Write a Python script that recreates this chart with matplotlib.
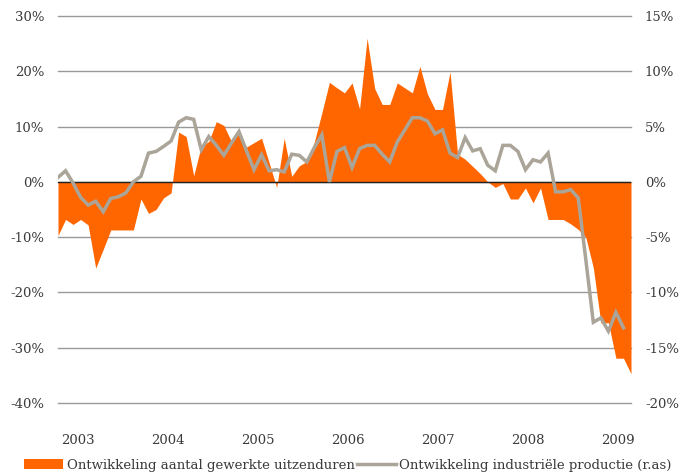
import matplotlib
matplotlib.use("Agg")
import matplotlib.pyplot as plt
import numpy as np
from matplotlib.patches import Patch
from matplotlib.lines import Line2D

# Monthly observations, Jan 2003 .. May 2009 (index 0..76)
uitzenduren = [-9.7, -6.8, -7.7, -6.8, -7.8, -15.6, -12.2, -8.7, -8.7, -8.7,
               -8.7, -3.1, -5.7, -5.0, -2.9, -2.0, 9.0, 8.2, 1.1, 6.5,
               7.3, 10.9, 10.2, 7.3, 8.7, 6.3, 7.1, 7.9, 3.5, -1.0,
               7.9, 1.0, 2.9, 3.7, 7.2, 12.5, 18.0, 17.0, 16.1, 17.9,
               13.2, 26.0, 16.9, 14.0, 14.0, 17.9, 17.0, 16.1, 20.9, 15.9,
               13.1, 13.1, 19.9, 5.0, 4.1, 2.8, 1.5, 0.0, -1.0, -0.3,
               -3.1, -3.1, -1.1, -3.8, -1.1, -6.8, -6.8, -6.8, -7.6, -8.6,
               -10.0, -15.5, -25.5, -25.5, -31.9, -31.9, -34.7]

productie = [0.4, 1.0, -0.1, -1.4, -2.1, -1.75, -2.7, -1.5, -1.35, -1.0,
             0.0, 0.5, 2.6, 2.75, 3.2, 3.7, 5.4, 5.8, 5.65, 2.9,
             4.1, 3.3, 2.4, 3.5, 4.55, 2.8, 1.1, 2.45, 1.0, 1.1,
             0.9, 2.5, 2.4, 1.8, 3.1, 4.25, 0.0, 2.75, 3.1, 1.3,
             3.0, 3.3, 3.3, 2.5, 1.8, 3.6, 4.7, 5.8, 5.8, 5.5,
             4.35, 4.7, 2.6, 2.2, 4.0, 2.8, 3.0, 1.5, 1.0, 3.3,
             3.3, 2.75, 1.1, 2.0, 1.8, 2.6, -0.9, -0.9, -0.7, -1.45,
             -7.0, -12.7, -12.3, -13.5, -11.8, -13.2, np.nan]

year_labels = ["2003", "2004", "2005", "2006", "2007", "2008", "2009"]
left_ticks = [30, 20, 10, 0, -10, -20, -30, -40]
right_ticks = [15, 10, 5, 0, -5, -10, -15, -20]

ORANGE = "#FF6600"
GREY = "#AAA499"
TXT = "#3a3a3a"
FONT = "DejaVu Serif"

plt.rcParams["font.family"] = [FONT, "DejaVu Sans"]

fig = plt.figure(figsize=(6.94, 4.75), dpi=100)
ax = fig.add_axes([58 / 694, 1 - 403 / 475, (631 - 58) / 694, (403 - 16) / 475])

x = np.arange(len(uitzenduren))
ax.fill_between(x, 0, uitzenduren, color=ORANGE, lw=0, zorder=2)
for t in left_ticks:
    ax.axhline(t, color="#999999", lw=1.0, zorder=1, clip_on=False)
ax.axhline(0, color="#222222", lw=1.0, zorder=3)

ax.set_xlim(0, len(uitzenduren) - 1)
ax.set_ylim(-40, 30)
ax.set_yticks(left_ticks)
ax.set_yticklabels([f"{t}%" for t in left_ticks])
xt = [2.6 + 11.95 * k for k in range(len(year_labels))]
ax.set_xticks(xt)
ax.set_xticklabels(year_labels)
ax.tick_params(axis="both", length=0, labelsize=9.5, colors=TXT)
ax.tick_params(axis="x", pad=22)
ax.tick_params(axis="y", pad=10)
for s in ax.spines.values():
    s.set_visible(False)

ax2 = ax.twinx()
ax2.plot(x, productie, color=GREY, lw=2.5, zorder=4, solid_joinstyle="miter")
ax2.set_ylim(-20, 15)
ax2.set_yticks(right_ticks)
ax2.set_yticklabels([f"{t}%" for t in right_ticks])
ax2.tick_params(axis="y", length=0, labelsize=9.5, colors=TXT, pad=10)
for s in ax2.spines.values():
    s.set_visible(False)

handles = [Patch(facecolor=ORANGE, edgecolor="none"),
           Line2D([0], [0], color=GREY, lw=2.5)]
labels = ["Ontwikkeling aantal gewerkte uitzenduren",
          "Ontwikkeling industriële productie (r.as)"]
fig.legend(handles, labels, loc="center left", bbox_to_anchor=(12 / 694, 1 - 465 / 475),
           ncol=2, frameon=False, fontsize=9.5, handlelength=3.0, handleheight=0.75,
           handletextpad=0.25, columnspacing=0.15, labelcolor=TXT)

fig.savefig("out.png", dpi=100)
